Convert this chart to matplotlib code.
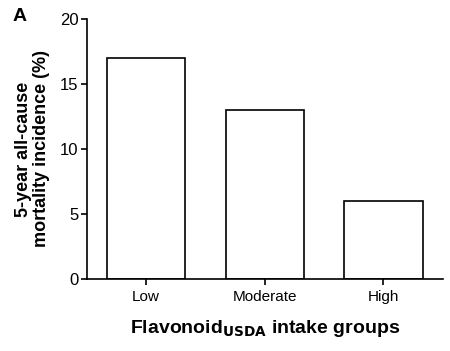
import matplotlib
matplotlib.use('agg')
import matplotlib.pyplot as plt

groups = ['Low', 'Moderate', 'High']
incidence = [17, 13, 6]
yticks = [0, 5, 10, 15, 20]

plt.rcParams['font.family'] = ['Liberation Sans', 'DejaVu Sans']

fig = plt.figure(figsize=(4.5, 3.51), dpi=100)
ax = fig.add_axes([0.193, 0.205, 0.791, 0.741])

x = range(len(groups))
ax.bar(x, incidence, width=0.66, color='white', edgecolor='black', linewidth=1.2)

ax.set_xlim(-0.5, 2.5)
ax.set_ylim(0, 20)
ax.set_yticks(yticks)
ax.set_xticks(list(x))
ax.set_xticklabels(groups, fontsize=11)
ax.tick_params(axis='y', labelsize=12, direction='out', length=4, width=1.2, pad=2)
ax.tick_params(axis='x', direction='out', length=4, width=1.2, pad=4)
for s in ['top', 'right']:
    ax.spines[s].set_visible(False)
for s in ['left', 'bottom']:
    ax.spines[s].set_linewidth(1.2)

ax.set_ylabel('5-year all-cause\nmortality incidence (%)', fontsize=13,
              fontweight='bold', labelpad=7, linespacing=1.1)
ax.set_xlabel(r'Flavonoid$_{\mathbf{USDA}}$ intake groups', fontsize=14,
              fontweight='bold', labelpad=10)
fig.text(0.027, 0.94, 'A', fontsize=14, fontweight='bold')

fig.savefig('out.png', dpi=100)
